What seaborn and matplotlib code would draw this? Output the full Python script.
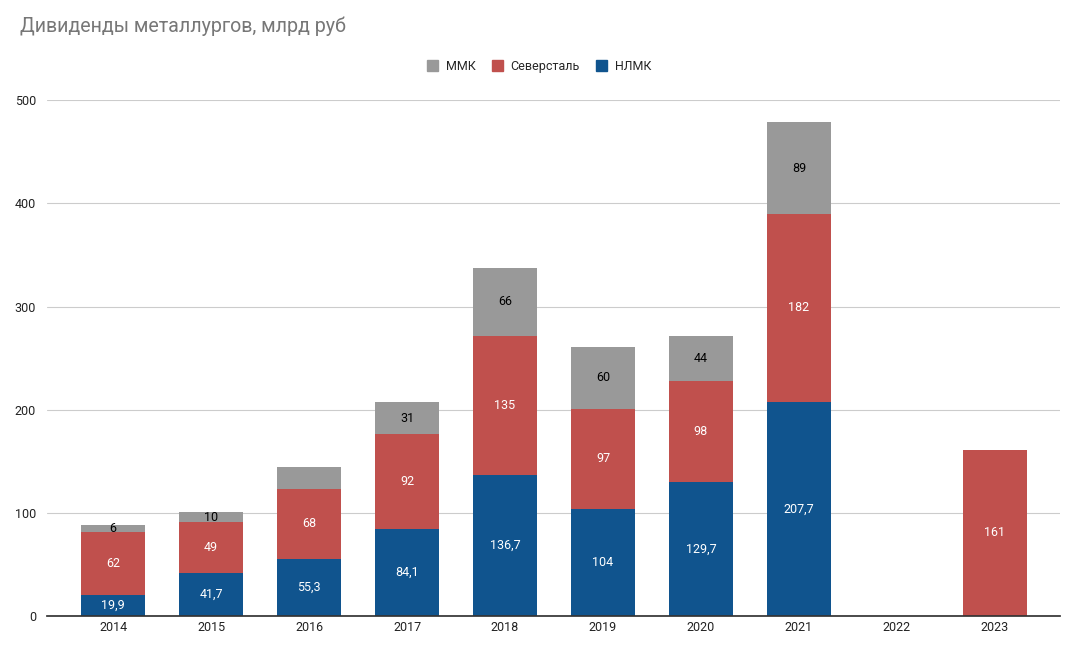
import pandas as pd
import seaborn as sns
import matplotlib
matplotlib.use('Agg')
import matplotlib.pyplot as plt
from matplotlib.patches import Patch

years = ['2014', '2015', '2016', '2017', '2018', '2019', '2020', '2021', '2022', '2023']
nlmk = [19.9, 41.7, 55.3, 84.1, 136.7, 104, 129.7, 207.7, 0, 0]
severstal = [62, 49, 68, 92, 135, 97, 98, 182, 0, 161]
mmk = [6, 10, 21.5, 31, 66, 60, 44, 89, 0, 0]
# the 2016 MMK segment has no label on the original chart
mmk_show = [True, True, False, True, True, True, True, True, False, False]

BLUE = '#10548e'
RED = '#c0504d'
GRAY = '#999999'

df = pd.DataFrame({'year': years, 'nlmk': nlmk, 'sev': severstal, 'mmk': mmk})
df['base2'] = df['nlmk'] + df['sev']

sns.set_theme(style='white')
plt.rcParams['font.family'] = ['Roboto', 'DejaVu Sans']

fig = plt.figure(figsize=(10.72, 6.55), dpi=100)
ax = fig.add_axes([0.044, 0.0595, 0.945, 0.7875])

w = 0.65
sns.barplot(data=df, x='year', y='nlmk', color=BLUE, width=w, ax=ax, saturation=1, linewidth=0)
sns.barplot(data=df, x='year', y='sev', color=RED, width=w, ax=ax, saturation=1, linewidth=0,
            bottom=df['nlmk'])
sns.barplot(data=df, x='year', y='mmk', color=GRAY, width=w, ax=ax, saturation=1, linewidth=0,
            bottom=df['base2'])


def fmt(v):
    return f'{v:g}'.replace('.', ',')


for i in range(len(years)):
    if nlmk[i] > 0:
        ax.text(i, nlmk[i] / 2, fmt(nlmk[i]), ha='center', va='center', color='white', fontsize=9)
    if severstal[i] > 0:
        ax.text(i, nlmk[i] + severstal[i] / 2, fmt(severstal[i]), ha='center', va='center',
                color='white', fontsize=9)
    if mmk[i] > 0 and mmk_show[i]:
        ax.text(i, nlmk[i] + severstal[i] + mmk[i] / 2, fmt(mmk[i]), ha='center', va='center',
                color='black', fontsize=9)

ax.set_ylim(0, 500)
ax.set_xlim(-0.673, 9.667)
ax.set_yticks([0, 100, 200, 300, 400, 500])
ax.yaxis.grid(True, color='#cccccc', linewidth=0.8)
ax.set_axisbelow(True)
ax.set_xlabel('')
ax.set_ylabel('')
for s in ['left', 'right', 'top']:
    ax.spines[s].set_visible(False)
ax.spines['bottom'].set_color('#333333')
ax.tick_params(axis='both', labelsize=9, colors='#222222', length=0)
ax.tick_params(axis='y', pad=8)

fig.text(0.019, 0.96, 'Дивиденды металлургов, млрд руб', fontsize=14.1, color='#777777',
         ha='left', va='center')

handles = [Patch(color=GRAY, label='ММК'), Patch(color=RED, label='Северсталь'),
           Patch(color=BLUE, label='НЛМК')]
fig.legend(handles=handles, loc='center', bbox_to_anchor=(0.503, 0.899), ncol=3,
           frameon=False, fontsize=9, handlelength=0.9, handleheight=0.9,
           handletextpad=0.6, columnspacing=1.3)

fig.savefig('out.png', dpi=100)
